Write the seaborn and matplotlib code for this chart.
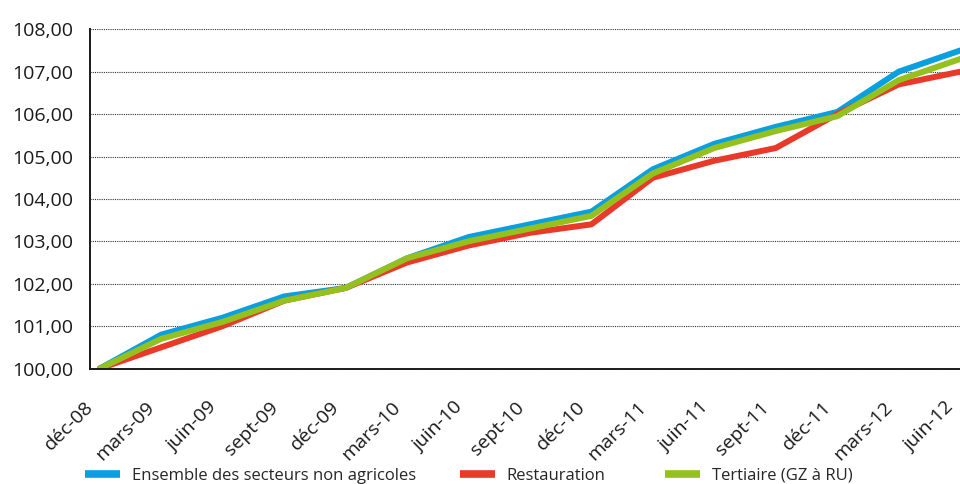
import matplotlib
matplotlib.use("Agg")
import matplotlib.pyplot as plt
from matplotlib.lines import Line2D
from matplotlib.transforms import ScaledTranslation
import seaborn as sns
import pandas as pd

# Quarterly index (base 100 = déc-08)
periods = ["déc-08", "mars-09", "juin-09", "sept-09", "déc-09", "mars-10", "juin-10",
           "sept-10", "déc-10", "mars-11", "juin-11", "sept-11", "déc-11", "mars-12", "juin-12"]
ensemble = [100.0, 100.8, 101.2, 101.7, 101.9, 102.6, 103.1, 103.4, 103.7,
            104.7, 105.3, 105.7, 106.05, 107.0, 107.5]
restauration = [100.0, 100.5, 101.0, 101.6, 101.9, 102.5, 102.9, 103.2, 103.4,
                104.5, 104.9, 105.2, 106.0, 106.7, 107.0]
tertiaire = [100.0, 100.7, 101.1, 101.6, 101.9, 102.6, 103.0, 103.3, 103.6,
             104.6, 105.2, 105.6, 105.95, 106.8, 107.3]

series_names = ["Ensemble des secteurs non agricoles", "Restauration", "Tertiaire (GZ à RU)"]
colors = ["#0AA0E0", "#E8392B", "#95C11F"]
y_ticks = [100, 101, 102, 103, 104, 105, 106, 107, 108]

# points sit slightly to the right of each period tick
offset = 0.16
rows = []
for name, vals in zip(series_names, [ensemble, restauration, tertiaire]):
    for i, v in enumerate(vals):
        rows.append({"x": i + offset, "valeur": v, "série": name})
df = pd.DataFrame(rows)

sns.set_style("white")
plt.rcParams["font.family"] = ["Open Sans", "DejaVu Sans"]

fig = plt.figure(figsize=(9.6, 4.84), dpi=100)
ax = fig.add_axes([90 / 960, 1 - 368.5 / 484, (960 - 90) / 960, (368.5 - 29.3) / 484])

sns.lineplot(data=df, x="x", y="valeur", hue="série", hue_order=series_names,
             palette=colors, linewidth=4.3, ax=ax, legend=False, sort=False)

ax.set_xlim(0, (960 - 90) / 61.45)
ax.set_ylim(100, 108)
ax.set_yticks(y_ticks)
ax.set_yticklabels([f"{v:.2f}".replace(".", ",") for v in y_ticks], fontsize=14, color="#1a1a1a")
ax.set_xticks(range(len(periods)))
ax.set_xticklabels(periods, rotation=45, ha="right", rotation_mode="anchor",
                   fontsize=14, color="#1a1a1a")
ax.set_xlabel("")
ax.set_ylabel("")

ax.grid(axis="y", linestyle=(0, (1, 1)), color="#333333", linewidth=0.8)
ax.set_axisbelow(True)
for side in ["top", "right"]:
    ax.spines[side].set_visible(False)
for side in ["left", "bottom"]:
    ax.spines[side].set_color("#1a1a1a")
    ax.spines[side].set_linewidth(1.4)
ax.tick_params(axis="both", which="both", direction="out", length=5, width=1,
               color="#444444")
ax.tick_params(axis="y", pad=7)
ax.tick_params(axis="x", pad=4)

# nudge the rotated period labels left and down
shift = ScaledTranslation(-4 / 72, -12.5 / 72, fig.dpi_scale_trans)
for lab in ax.get_xticklabels():
    lab.set_transform(lab.get_transform() + shift)

# legend entries laid out along the bottom
legend_x = [85, 460, 665]
for name, col, lx in zip(series_names, colors, legend_x):
    h = Line2D([], [], color=col, linewidth=5.5, solid_capstyle="butt")
    fig.legend([h], [name], loc="center left", bbox_to_anchor=(lx / 960, 1 - 476 / 484),
               frameon=False, fontsize=12, handlelength=2.1, handletextpad=0.7,
               borderpad=0, borderaxespad=0)

fig.savefig("out.png", dpi=100)
